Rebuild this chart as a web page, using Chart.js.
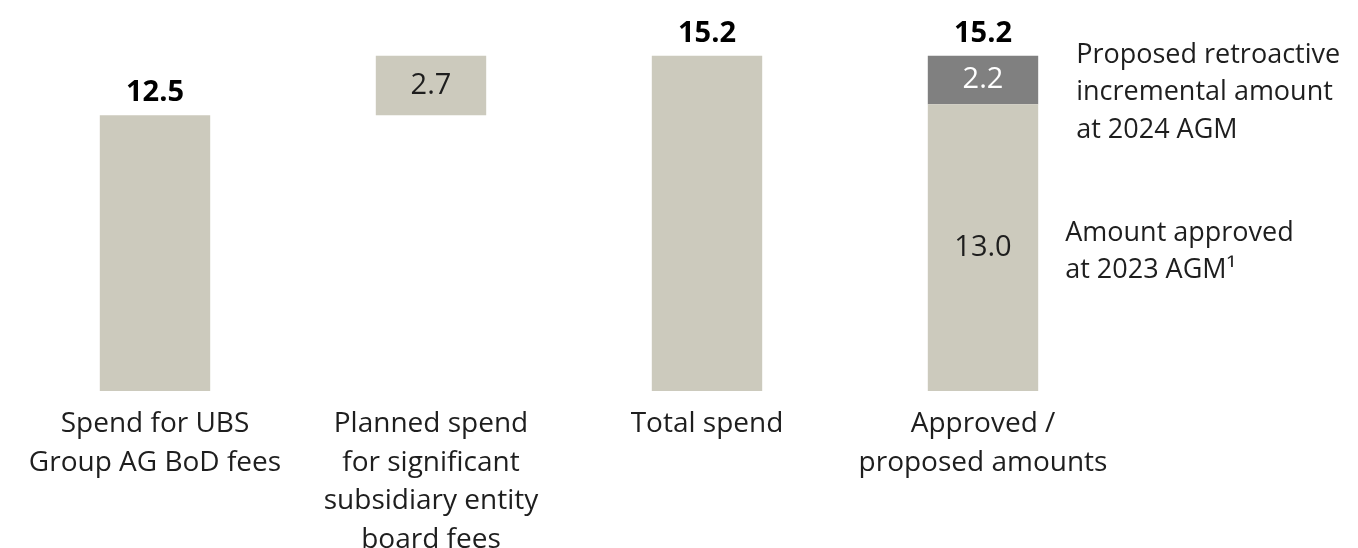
<!DOCTYPE html>
<html>
  <head>
    <meta charset="utf-8">
    <title>Board fee spend</title>
    <script src="https://cdn.jsdelivr.net/npm/chart.js"></script>
    <style>
      html, body {
        margin: 0;
        padding: 0;
        background: #ffffff;
        overflow: hidden;
      }
      #wrap {
        position: relative;
        width: 1358px;
        height: 573px;
      }
    </style>
  </head>
  <body>
    <div id="wrap"><canvas id="feeChart"></canvas></div>
    <script>
      // categories (multi-line axis labels)
      const categories = [
        ['Spend for UBS', 'Group AG BoD fees'],
        ['Planned spend', 'for significant', 'subsidiary entity', 'board fees'],
        ['Total spend'],
        ['Approved /', 'proposed amounts']
      ];

      // series values (CHF m)
      const bodFees = 12.5;
      const subsidiaryFees = 2.7;
      const totalSpend = 15.2;
      const approved2023 = 13.0;
      const proposed2024 = 2.2;

      const offsetValues = [0, bodFees, 0, 0];
      const lightValues = [bodFees, subsidiaryFees, totalSpend, approved2023];
      const darkValues = [0, 0, 0, proposed2024];
      const totalLabels = ['12.5', null, '15.2', '15.2'];

      const noteTop = ['Proposed retroactive', 'incremental amount', 'at 2024 AGM'];
      const noteBottom = ['Amount approved', 'at 2023 AGM\u00B9'];

      const LIGHT = '#cccabd';
      const DARK = '#808080';
      const FONT = "'Open Sans', 'DejaVu Sans', sans-serif";

      const labelPlugin = {
        id: 'barLabels',
        afterDatasetsDraw(chart) {
          const ctx = chart.ctx;
          const y = chart.scales.y;
          const lightMeta = chart.getDatasetMeta(1);
          const darkMeta = chart.getDatasetMeta(2);
          ctx.save();
          ctx.textAlign = 'center';

          // bold totals above the bars
          ctx.font = 'bold 29px ' + FONT;
          ctx.fillStyle = '#000000';
          ctx.textBaseline = 'alphabetic';
          totalLabels.forEach((t, i) => {
            if (!t) return;
            const top = darkValues[i] ? darkMeta.data[i].y : lightMeta.data[i].y;
            ctx.fillText(t, lightMeta.data[i].x, top - 14);
          });

          // values inside the segments
          ctx.font = '29px ' + FONT;
          ctx.textBaseline = 'middle';
          ctx.fillStyle = '#1e1e1e';
          const b1 = lightMeta.data[1];
          ctx.fillText(subsidiaryFees.toFixed(1), b1.x, (b1.y + b1.base) / 2);
          const b3 = lightMeta.data[3];
          const midApproved = y.getPixelForValue(approved2023 / 2);
          ctx.fillText(approved2023.toFixed(1), b3.x, midApproved);
          const d3 = darkMeta.data[3];
          ctx.fillStyle = '#ffffff';
          ctx.fillText(proposed2024.toFixed(1), d3.x, (d3.y + d3.base) / 2);

          // notes to the right of the last bar
          ctx.textAlign = 'left';
          ctx.textBaseline = 'alphabetic';
          ctx.fillStyle = '#1e1e1e';
          ctx.font = '27px ' + FONT;
          const right = b3.x + b3.width / 2;
          const topY = y.getPixelForValue(totalSpend);
          noteTop.forEach((line, i) => ctx.fillText(line, right + 38, topY + 7 + i * 37.5));
          noteBottom.forEach((line, i) => ctx.fillText(line, right + 27, midApproved - 7 + i * 37.5));
          ctx.restore();
        }
      };

      new Chart(document.getElementById('feeChart'), {
        type: 'bar',
        data: {
          labels: categories,
          datasets: [
            { data: offsetValues, backgroundColor: 'rgba(0,0,0,0)' },
            { data: lightValues, backgroundColor: LIGHT },
            { data: darkValues, backgroundColor: DARK }
          ]
        },
        options: {
          responsive: true,
          maintainAspectRatio: false,
          animation: false,
          categoryPercentage: 1,
          barPercentage: 0.4,
          layout: { padding: { top: 38, left: 17, right: 237, bottom: 0 } },
          plugins: { legend: { display: false }, tooltip: { enabled: false } },
          scales: {
            x: {
              stacked: true,
              grid: { display: false, drawTicks: false },
              border: { display: false },
              ticks: {
                color: '#1e1e1e',
                padding: 14,
                font: { family: FONT, size: 28, lineHeight: '38.5px' },
                maxRotation: 0,
                autoSkip: false
              }
            },
            y: {
              stacked: true,
              display: false,
              min: 0,
              max: 16
            }
          }
        },
        plugins: [labelPlugin]
      });
    </script>
  </body>
</html>
